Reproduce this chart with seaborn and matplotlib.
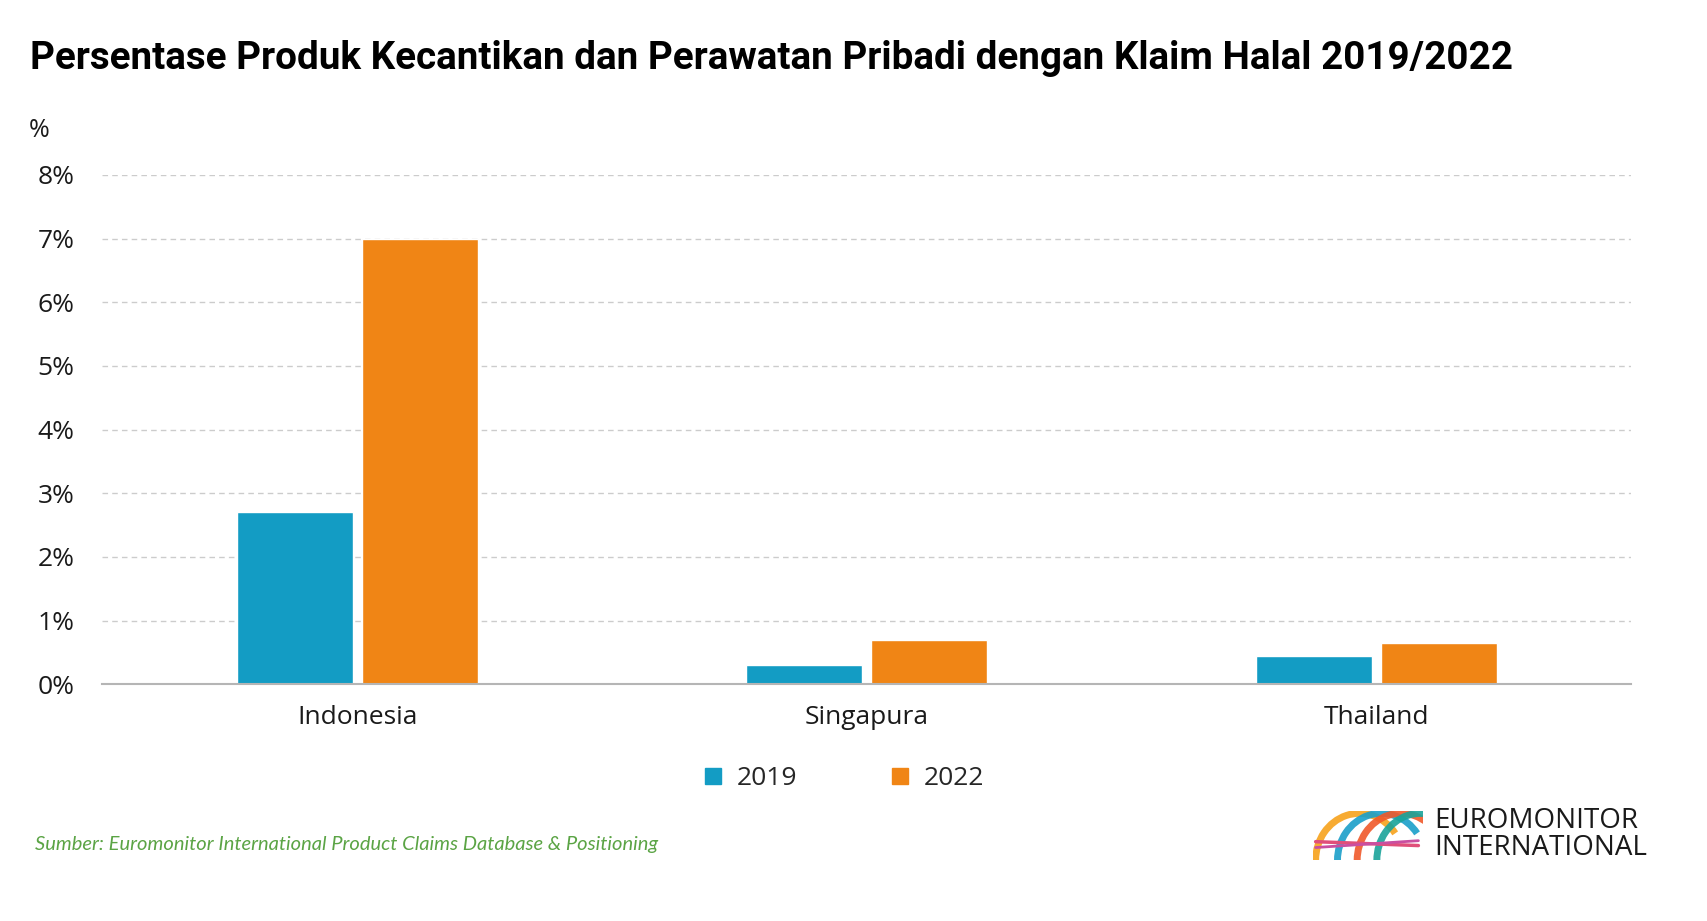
import pandas as pd
import numpy as np
import matplotlib.pyplot as plt
import matplotlib.ticker as mtick
from matplotlib.patches import Arc
import seaborn as sns

# data
negara = ['Indonesia', 'Singapura', 'Thailand']
tahun = ['2019', '2022']
nilai_2019 = [2.7, 0.3, 0.45]
nilai_2022 = [7.0, 0.7, 0.65]

df = pd.DataFrame({
    'negara': negara * 2,
    'tahun': [tahun[0]] * 3 + [tahun[1]] * 3,
    'nilai': nilai_2019 + nilai_2022,
})

sns.set_theme(style='white')
plt.rcParams['font.family'] = ['Open Sans', 'DejaVu Sans']

warna = {'2019': '#139cc4', '2022': '#f08515'}

fig = plt.figure(figsize=(17.08, 9.21), dpi=100)
ax = fig.add_axes([0.060, 0.257, 0.895, 0.553])

sns.barplot(data=df, x='negara', y='nilai', hue='tahun', palette=warna,
            width=0.49, gap=0.07, saturation=1, ax=ax, legend=False)

ax.set_ylim(0, 8)
ax.set_xlim(-0.5, 2.5)
ax.yaxis.set_major_locator(mtick.MultipleLocator(1))
ax.yaxis.set_major_formatter(mtick.FuncFormatter(lambda v, p: f'{v:.0f}%'))
ax.grid(axis='y', color='#cccccc', linestyle=(0, (4, 3)), linewidth=1)
ax.set_axisbelow(True)
for s in ['top', 'right', 'left']:
    ax.spines[s].set_visible(False)
ax.spines['bottom'].set_color('#b5b5b5')
ax.spines['bottom'].set_linewidth(1.5)
ax.tick_params(axis='y', length=0, pad=20, labelsize=19, labelcolor='#1a1a1a')
ax.tick_params(axis='x', length=0, pad=15, labelsize=19, labelcolor='#1a1a1a')
ax.set_xlabel('')
ax.set_ylabel('')

fig.text(0.017, 0.858, '%', fontsize=18, color='#1a1a1a', va='center')

# title
fig.text(0.0176, 0.937, 'Persentase Produk Kecantikan dan Perawatan Pribadi dengan Klaim Halal 2019/2022',
         fontsize=27.8, fontweight='bold', family=['Roboto', 'DejaVu Sans'],
         color='black', va='center', ha='left')

# legend
handles = [plt.Line2D([], [], marker='s', linestyle='', markersize=11,
                      markerfacecolor=warna[t], markeredgecolor=warna[t]) for t in tahun]
fig.legend(handles, tahun, loc='center', bbox_to_anchor=(0.493, 0.155), ncol=2,
           frameon=False, fontsize=19, columnspacing=3.4, handletextpad=0.4,
           handlelength=1.0)

# source
fig.text(0.0205, 0.083, 'Sumber: Euromonitor International Product Claims Database & Positioning',
         fontsize=14.5, style='italic', color='#5ba445',
         family=['Lato', 'DejaVu Sans'], va='center')

# logo (simple ribbons + text)
lax = fig.add_axes([0.769, 0.066, 0.064, 0.053])
lax.set_xlim(0, 10)
lax.set_ylim(0, 5)
lax.axis('off')
for cx, col in [(4.2, '#f7a21b'), (6.2, '#1a9fc9'), (8.0, '#f0592a'), (9.8, '#1aa39a')]:
    lax.add_patch(Arc((cx, 0), 8, 9.6, theta1=40, theta2=180, color=col, lw=5, alpha=0.9))
lax.plot([0.2, 9.6], [1.9, 1.5], color='#e04f7a', lw=2.5)
lax.plot([0.2, 9.6], [1.3, 2.0], color='#c94fa0', lw=2)
fig.text(0.8396, 0.094, 'EUROMONITOR\nINTERNATIONAL', fontsize=20, color='#1a1a1a',
         va='center', ha='left', linespacing=0.95)

plt.savefig('out.png', dpi=100)
